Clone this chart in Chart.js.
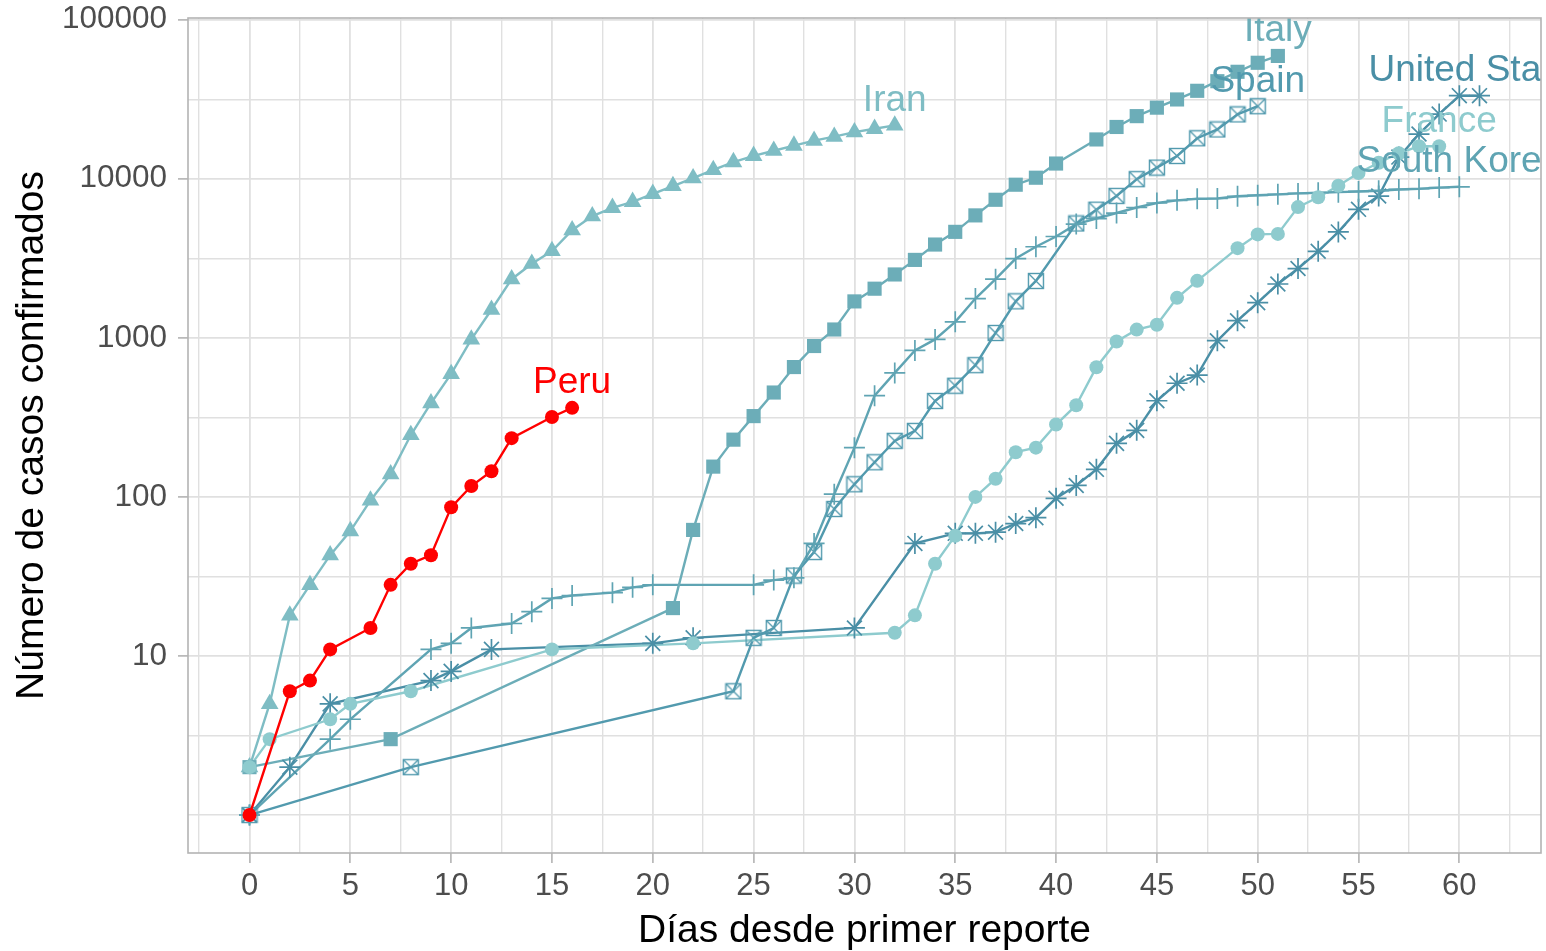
<!DOCTYPE html>
<html>
<head>
<meta charset="utf-8">
<script src="https://cdn.jsdelivr.net/npm/chart.js@4.4.1/dist/chart.umd.min.js"></script>
<style>
html,body{margin:0;padding:0;background:#fff;}
canvas{display:block;}
</style>
</head>
<body>
<canvas id="c" width="1546" height="951"></canvas>
<script>
// ---------------- DATA ----------------
const countries = ['France', 'Iran', 'Italy', 'Peru', 'South Korea', 'Spain', 'United States'];

const franceDays  = [0,1,4,5,8,15,22,32,33,34,35,36,37,38,39,40,41,42,43,44,45,46,47,49,50,51,52,53,54,55,56,57,58,59];
const franceCases = [2,3,4,5,6,11,12,14,18,38,57,100,130,191,204,285,377,653,949,1126,1209,1784,2281,3661,4469,4499,6633,7652,9043,10871,12612,14459,16018,16018];

const iranDays  = [0,1,2,3,4,5,6,7,8,9,10,11,12,13,14,15,16,17,18,19,20,21,22,23,24,25,26,27,28,29,30,31,32];
const iranCases = [2,5,18,28,43,61,95,139,245,388,593,978,1501,2336,2922,3513,4747,5823,6566,7161,8042,9000,10075,11364,12729,13938,14991,16169,17361,18407,19644,20610,21638];

const italyDays  = [0,7,21,22,23,24,25,26,27,28,29,30,31,32,33,34,35,36,37,38,39,40,42,43,44,45,46,47,48,49,50,51];
const italyCases = [2,3,20,62,155,229,322,453,655,888,1128,1694,2036,2502,3089,3858,4636,5883,7375,9172,10149,12462,17660,21157,24747,27980,31506,35713,41035,47021,53578,59138];

const peruDays  = [0,2,3,4,6,7,8,9,10,11,12,13,15,16];
const peruCases = [1,6,7,11,15,28,38,43,86,117,145,234,318,363];

const koreaDays  = [0,4,5,9,10,11,13,14,15,16,18,19,20,25,26,27,28,29,30,31,32,33,34,35,36,37,38,39,40,41,42,43,44,45,46,47,48,49,50,51,52,53,54,55,56,57,58,59,60];
const koreaCases = [1,3,4,11,12,15,16,19,23,24,25,27,28,28,30,31,51,104,204,433,602,833,977,1261,1766,2337,3150,3736,4335,5186,5621,6088,6593,7041,7313,7478,7513,7755,7869,7979,8086,8162,8236,8320,8413,8565,8652,8799,8897];

const spainDays  = [0,8,24,25,26,27,28,29,30,31,32,33,34,35,36,37,38,39,41,42,43,44,45,46,47,48,49,50];
const spainCases = [1,2,6,13,15,32,45,84,120,165,225,260,401,500,673,1073,1695,2277,5232,6391,7798,9942,11748,13910,17963,20410,25374,28572];

const usDays  = [0,2,4,9,10,12,20,22,30,33,35,36,37,38,39,40,41,42,43,44,45,46,47,48,49,50,51,52,53,54,55,56,57,58,59,60,61];
const usCases = [1,2,5,7,8,11,12,13,15,51,59,59,60,68,74,98,118,149,217,262,402,518,583,959,1281,1663,2179,2726,3499,4632,6421,7786,13680,19101,25493,33276,33276];

const xTickValues = [0,5,10,15,20,25,30,35,40,45,50,55,60];
const xTickLabels = ['0','5','10','15','20','25','30','35','40','45','50','55','60'];
const yTickValues = [10,100,1000,10000,100000];
const yTickLabels = ['10','100','1000','10000','100000'];

const xTitle = 'Días desde primer reporte';
const yTitle = 'Número de casos confirmados';

// ---------------- STYLE ----------------
const FONT = "'Liberation Sans', Arial, sans-serif";
const styles = {
  'France':        {color:'#8ecbce', shape:'circle',   r:7,    bw:0},
  'Iran':          {color:'#7fbdc4', shape:'triangle', r:10.2, bw:0},
  'Italy':         {color:'#6cadb8', shape:'rect',     r:10,   bw:0},
  'Peru':          {color:'#ff0000', shape:'circle',   r:7,    bw:0},
  'South Korea':   {color:'#5fa4b3', shape:'cross',    r:10.5, bw:1.7},
  'Spain':         {color:'#529aae', shape:'boxcross', r:8,    bw:1.4},
  'United States': {color:'#4a8fa6', shape:'star',     r:10.5, bw:1.7}
};
const seriesData = {
  'France': [franceDays, franceCases],
  'Iran': [iranDays, iranCases],
  'Italy': [italyDays, italyCases],
  'Peru': [peruDays, peruCases],
  'South Korea': [koreaDays, koreaCases],
  'Spain': [spainDays, spainCases],
  'United States': [usDays, usCases]
};

function boxCross(color) {
  const s = 18;
  const c = document.createElement('canvas');
  c.width = s; c.height = s;
  const g = c.getContext('2d');
  g.strokeStyle = color; g.lineWidth = 1.4;
  g.strokeRect(1.5, 1.5, 15, 15);
  g.beginPath();
  g.moveTo(1.5, 1.5); g.lineTo(16.5, 16.5);
  g.moveTo(16.5, 1.5); g.lineTo(1.5, 16.5);
  g.stroke();
  return c;
}

// axis range (ggplot-like 5% expansion)
const allDays = [].concat(...countries.map(c => seriesData[c][0]));
const allCases = [].concat(...countries.map(c => seriesData[c][1]));
const dMin = Math.min(...allDays), dMax = Math.max(...allDays);
const lMin = Math.log10(Math.min(...allCases)), lMax = Math.log10(Math.max(...allCases));
const xMin = dMin - 0.05 * (dMax - dMin), xMax = dMax + 0.05 * (dMax - dMin);
const yMin = Math.pow(10, lMin - 0.05 * (lMax - lMin)), yMax = Math.pow(10, lMax + 0.05 * (lMax - lMin));

// grid positions: majors plus midpoints (minor)
const xGrid = [];
for (let i = -1; i < xTickValues.length; i++) {
  if (i >= 0) xGrid.push(xTickValues[i]);
  const a = i >= 0 ? xTickValues[i] : xTickValues[0] - 5;
  const m = a + 2.5;
  if (m > xMin && m < xMax) xGrid.push(m);
}
const yGrid = [1];
yTickValues.forEach(v => { yGrid.push(v / Math.sqrt(10)); yGrid.push(v); });
yGrid.sort((a, b) => a - b);

const isMajorX = v => xTickValues.some(t => Math.abs(t - v) < 1e-9);
const isMajorY = v => yTickValues.some(t => Math.abs(t - v) / t < 1e-6);

// ---------------- DATASETS ----------------
const datasets = [];
countries.forEach(name => {
  const [days, cases] = seriesData[name];
  const st = styles[name];
  const pts = days.map((d, i) => ({x: d, y: cases[i]}));
  const isPeru = name === 'Peru';
  datasets.push({
    label: name + ' line', data: pts, borderColor: st.color, backgroundColor: st.color,
    borderWidth: 2.4, pointRadius: 0, pointHitRadius: 0, tension: 0, fill: false,
    order: isPeru ? 1 : 3
  });
  datasets.push({
    label: name, data: pts, showLine: false,
    pointStyle: st.shape === 'boxcross' ? boxCross(st.color) : st.shape,
    pointRadius: st.r, pointBackgroundColor: st.color, pointBorderColor: st.color,
    pointBorderWidth: st.bw, pointHitRadius: 0,
    order: isPeru ? 0 : 2
  });
});

// ---------------- PLUGINS ----------------
const bgPlugin = {
  id: 'bg',
  beforeDraw(chart) {
    const ctx = chart.ctx;
    ctx.save(); ctx.fillStyle = '#fff'; ctx.fillRect(0, 0, chart.width, chart.height); ctx.restore();
  }
};
const labelPlugin = {
  id: 'endLabels',
  afterDatasetsDraw(chart) {
    const {ctx, chartArea: a, scales: {x, y}} = chart;
    ctx.save();
    ctx.beginPath();
    ctx.rect(a.left, a.top, a.right - a.left, a.bottom - a.top);
    ctx.clip();
    ctx.font = '37px ' + FONT;
    ctx.textAlign = 'center';
    ctx.textBaseline = 'alphabetic';
    countries.forEach(name => {
      const [days, cases] = seriesData[name];
      const i = days.length - 1;
      ctx.fillStyle = styles[name].color;
      ctx.fillText(name, x.getPixelForValue(days[i]), y.getPixelForValue(cases[i]) - 14.5);
    });
    ctx.restore();
  }
};
const borderPlugin = {
  id: 'panelBorder',
  afterDraw(chart) {
    const {ctx, chartArea: a} = chart;
    ctx.save();
    ctx.strokeStyle = '#b3b3b3';
    ctx.lineWidth = 1.6;
    ctx.strokeRect(a.left, a.top, a.right - a.left, a.bottom - a.top);
    ctx.restore();
  }
};
function zeroPad(s) { s.paddingTop = 0; s.paddingBottom = 0; s.paddingLeft = 0; s.paddingRight = 0; }

// ---------------- CHART ----------------
new Chart(document.getElementById('c'), {
  type: 'line',
  data: {datasets},
  options: {
    responsive: false,
    devicePixelRatio: 1,
    animation: false,
    events: [],
    layout: {autoPadding: false, padding: {left: 0, right: 5, top: 18, bottom: 0}},
    plugins: {legend: {display: false}, tooltip: {enabled: false}},
    scales: {
      x: {
        type: 'linear', min: xMin, max: xMax,
        afterBuildTicks: s => { s.ticks = xGrid.map(v => ({value: v})); },
        afterFit: s => { s.height = 98; zeroPad(s); },
        ticks: {
          autoSkip: false, maxRotation: 0, minRotation: 0, padding: 5,
          color: '#4d4d4d', font: {family: FONT, size: 31},
          callback: v => { const i = xTickValues.findIndex(t => Math.abs(t - v) < 1e-9); return i >= 0 ? xTickLabels[i] : ''; }
        },
        grid: {
          color: '#e0e0e0',
          lineWidth: c => (c.tick && isMajorX(c.tick.value)) ? 1.8 : 1.4,
          drawTicks: true, tickLength: 10,
          tickColor: c => (c.tick && isMajorX(c.tick.value)) ? '#b3b3b3' : 'rgba(0,0,0,0)',
          tickWidth: 1.6
        },
        border: {display: false},
        title: {display: true, text: xTitle, color: '#000', font: {family: FONT, size: 39, lineHeight: 1}, padding: {top: 0, bottom: 0.5}}
      },
      y: {
        type: 'logarithmic', min: yMin, max: yMax,
        afterBuildTicks: s => { s.ticks = yGrid.map(v => ({value: v})); },
        afterFit: s => { s.width = 188; zeroPad(s); },
        ticks: {
          autoSkip: false, padding: 11,
          color: '#4d4d4d', font: {family: FONT, size: 31.5, lineHeight: 1},
          callback: v => { const i = yTickValues.findIndex(t => Math.abs(t - v) / t < 1e-6); return i >= 0 ? yTickLabels[i] : ''; }
        },
        grid: {
          color: '#e0e0e0',
          lineWidth: c => (c.tick && isMajorY(c.tick.value)) ? 1.8 : 1.4,
          drawTicks: true, tickLength: 10,
          tickColor: c => (c.tick && isMajorY(c.tick.value)) ? '#b3b3b3' : 'rgba(0,0,0,0)',
          tickWidth: 1.6
        },
        border: {display: false},
        title: {display: true, text: yTitle, color: '#000', font: {family: FONT, size: 39, lineHeight: 1}, padding: {top: 13, bottom: 0}}
      }
    }
  },
  plugins: [bgPlugin, labelPlugin, borderPlugin]
});
</script>
</body>
</html>
